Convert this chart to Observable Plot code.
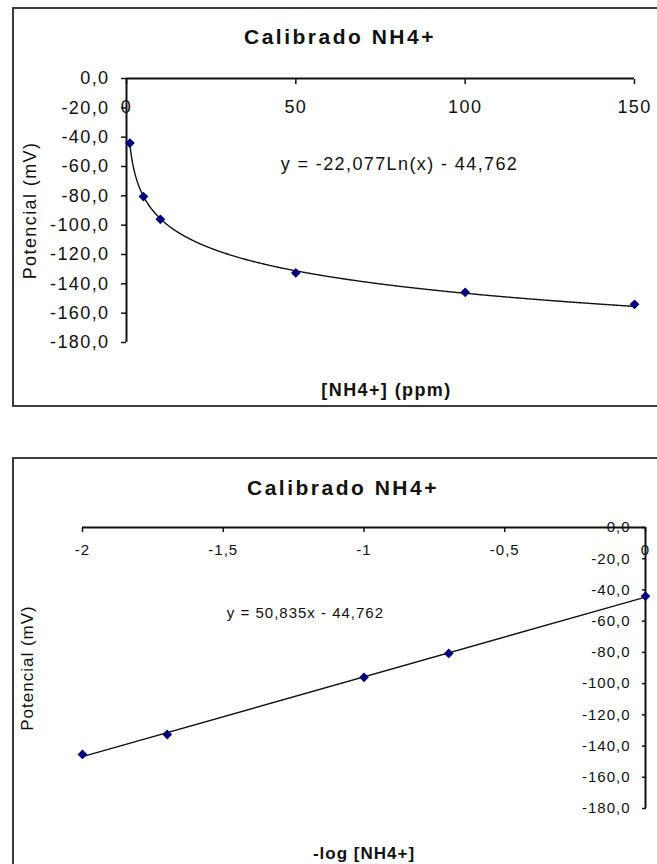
<!DOCTYPE html>
<html>
<head>
<meta charset="utf-8">
<script src="https://cdn.jsdelivr.net/npm/d3@7"></script>
<script src="https://cdn.jsdelivr.net/npm/@observablehq/plot@0.6"></script>
<style>
  html, body { margin: 0; padding: 0; background: #fff; }
  body { width: 657px; height: 864px; overflow: hidden; position: relative;
         font-family: "Liberation Sans", Arial, sans-serif; color: #111; }
  .frame { position: absolute; border: 2px solid #3c3c3c; box-sizing: border-box; z-index: 3; pointer-events: none; }
  .chart { position: absolute; left: 0; z-index: 1; }
  .title { position: absolute; z-index: 2; font-weight: bold; font-size: 21px; letter-spacing: 2.5px;
           line-height: 24px; white-space: nowrap; transform: translateX(-50%); }
</style>
</head>
<body>
<div class="frame" style="left:12px;top:7px;width:700px;height:400px;"></div>
<div class="frame" style="left:12px;top:457px;width:700px;height:500px;"></div>
<div id="t1" class="title" style="left:340px;top:25px;"></div>
<div id="t2" class="title" style="left:343px;top:476px;"></div>
<div id="c1" class="chart" style="top:0px;"></div>
<div id="c2" class="chart" style="top:440px;"></div>
<script>
// ---- data ----
const chartTitle = "Calibrado NH4+";
const yLabel = "Potencial (mV)";
const xLabelTop = "[NH4+] (ppm)";
const xLabelBottom = "-log [NH4+]";
const eqTop = "y = -22,077Ln(x) - 44,762";
const eqBottom = "y = 50,835x - 44,762";

// top chart: concentration (ppm) vs potential (mV)
const concPpm = [1, 5, 10, 50, 100, 150];
const potTop = [-44, -80.5, -96, -132.6, -145.8, -154];
// bottom chart: -log[NH4+] vs potential (mV)
const logConc = [0, -0.699, -1, -1.699, -2];
const potBottom = [-44, -80.7, -96, -132.6, -145.4];

// trend line coefficients shown on the chart
const logFit = [-22.077, -44.762];   // y = a*Ln(x) + b

// tick values
const yTicks = [0, -20, -40, -60, -80, -100, -120, -140, -160, -180];
const xTicksTop = [0, 50, 100, 150];
const xTicksBottom = [-2, -1.5, -1, -0.5, 0];

// annotation anchors (data units)
const eqTopPos = [80.6, -58.6];
const eqBottomPos = [-1.208, -55.1];

// ---- helpers ----
const fmtY = d => d.toFixed(1).replace(".", ",");
const fmtX = d => String(d).replace(".", ",");
const ink = "#111";
const dotFill = "#00007a";
const font = "'Liberation Sans', Arial, sans-serif";

document.getElementById("t1").textContent = chartTitle;
document.getElementById("t2").textContent = chartTitle;

// ---- top chart ----
const topRows = concPpm.map((c, i) => ({c, v: potTop[i]}));
const curveRows = d3.range(1, 150.001, 0.25).map(c => ({c, v: logFit[0] * Math.log(c) + logFit[1]}));

const topPlot = Plot.plot({
  width: 657, height: 420,
  marginLeft: 126, marginRight: 23, marginTop: 78, marginBottom: 78,
  style: {fontFamily: font, fontSize: "18px", letterSpacing: "1.4px", overflow: "visible", background: "none", color: ink},
  x: {domain: [0, 150], label: null},
  y: {domain: [-180, 0], label: null},
  marks: [
    Plot.axisY(yTicks, {anchor: "left", tickSize: 5, tickPadding: 12, tickFormat: fmtY, fontSize: 18, label: null, strokeWidth: 1.5}),
    Plot.axisX(xTicksTop, {anchor: "top", tickSize: -5, tickPadding: -24, lineAnchor: "middle", tickFormat: fmtX, fontSize: 18, label: null, strokeWidth: 1.5}),
    Plot.line(curveRows, {x: "c", y: "v", stroke: ink, strokeWidth: 1.4}),
    Plot.ruleX([0], {stroke: ink, strokeWidth: 2}),
    Plot.ruleY([0], {stroke: ink, strokeWidth: 2}),
    Plot.dot(topRows, {x: "c", y: "v", symbol: "diamond2", fill: dotFill, r: 4.4}),
    Plot.text([eqTop], {x: eqTopPos[0], y: eqTopPos[1], text: d => d, fontSize: 18, fill: ink}),
    Plot.text([xLabelTop], {frameAnchor: "bottom", textAnchor: "middle", lineAnchor: "middle", dx: 6, dy: 48, text: d => d, fontSize: 18, fontWeight: "bold", fill: ink}),
    Plot.text([yLabel], {frameAnchor: "left", textAnchor: "middle", lineAnchor: "middle", dx: -96, rotate: -90, text: d => d, fontSize: 18, fill: ink})
  ]
});
document.getElementById("c1").append(topPlot);

// ---- bottom chart ----
const botRows = logConc.map((x, i) => ({x, v: potBottom[i]}));

const bottomPlot = Plot.plot({
  width: 657, height: 424,
  marginLeft: 82, marginRight: 12, marginTop: 87, marginBottom: 56,
  style: {fontFamily: font, fontSize: "15px", letterSpacing: "1px", overflow: "visible", background: "none", color: ink},
  x: {domain: [-2, 0], label: null},
  y: {domain: [-180, 0], label: null},
  marks: [
    Plot.axisY(yTicks, {anchor: "right", tickSize: -4, tickPadding: -11, textAnchor: "end", tickFormat: fmtY, fontSize: 15, label: null, strokeWidth: 1.5}),
    Plot.axisX(xTicksBottom, {anchor: "top", tickSize: -4, tickPadding: -19, lineAnchor: "middle", tickFormat: fmtX, fontSize: 15, label: null, strokeWidth: 1.5}),
    Plot.linearRegressionY(botRows, {x: "x", y: "v", stroke: ink, strokeWidth: 1.4, ci: 0}),
    Plot.ruleX([0], {stroke: ink, strokeWidth: 2}),
    Plot.ruleY([0], {stroke: ink, strokeWidth: 2}),
    Plot.dot(botRows, {x: "x", y: "v", symbol: "diamond2", fill: dotFill, r: 4.4}),
    Plot.text([eqBottom], {x: eqBottomPos[0], y: eqBottomPos[1], text: d => d, fontSize: 15, fill: ink, style: "letter-spacing:1.2px"}),
    Plot.text([xLabelBottom], {frameAnchor: "bottom", textAnchor: "middle", lineAnchor: "middle", dy: 45, text: d => d, fontSize: 17, fontWeight: "bold", fill: ink}),
    Plot.text([yLabel], {frameAnchor: "left", textAnchor: "middle", lineAnchor: "middle", dx: -55, rotate: -90, text: d => d, fontSize: 17, fill: ink})
  ]
});
document.getElementById("c2").append(bottomPlot);
</script>
</body>
</html>
